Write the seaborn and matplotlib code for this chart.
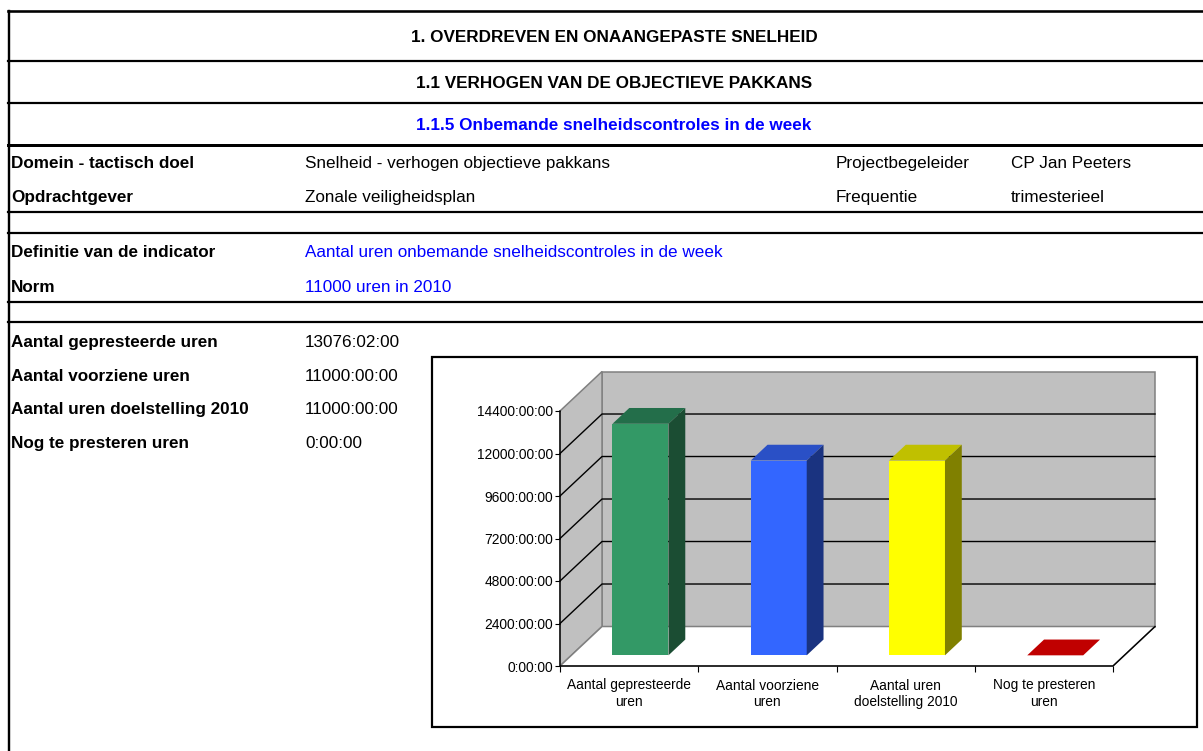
import matplotlib
matplotlib.use("Agg")
import matplotlib.pyplot as plt
from matplotlib.patches import Polygon, Rectangle
from matplotlib.lines import Line2D
import seaborn as sns
import pandas as pd

# chart data
categories = ["Aantal gepresteerde\nuren", "Aantal voorziene\nuren",
              "Aantal uren\ndoelstelling 2010", "Nog te presteren\nuren"]
hours = [13076 + 2 / 60, 11000, 11000, 0]
y_ticks = [0, 2400, 4800, 7200, 9600, 12000, 14400]

# sheet texts
headers = ["1. OVERDREVEN EN ONAANGEPASTE SNELHEID",
           "1.1 VERHOGEN VAN DE OBJECTIEVE PAKKANS",
           "1.1.5 Onbemande snelheidscontroles in de week"]
info_labels = ["Domein - tactisch doel", "Opdrachtgever"]
info_values = ["Snelheid - verhogen objectieve pakkans", "Zonale veiligheidsplan"]
info_labels2 = ["Projectbegeleider", "Frequentie"]
info_values2 = ["CP Jan Peeters", "trimesterieel"]
def_labels = ["Definitie van de indicator", "Norm"]
def_values = ["Aantal uren onbemande snelheidscontroles in de week", "11000 uren in 2010"]
sum_labels = ["Aantal gepresteerde uren", "Aantal voorziene uren",
              "Aantal uren doelstelling 2010", "Nog te presteren uren"]
sum_values = ["13076:02:00", "11000:00:00", "11000:00:00", "0:00:00"]

front_colors = ["#339966", "#3366FF", "#FFFF00", "#C00000"]
top_colors = ["#236E4A", "#2A50C6", "#C0C000", "#C00000"]
side_colors = ["#1B4D33", "#1A3380", "#808000", "#600000"]

plt.rcParams["font.family"] = ["Liberation Sans", "DejaVu Sans"]

W, H = 1203, 751
fig = plt.figure(figsize=(W / 100, H / 100), dpi=100)


def fx(x):
    return x / W


def fy(y):
    return 1 - y / H


# sheet grid lines
for y, lw in [(11, 2.6), (61, 2.2), (103, 2.2), (145, 3.0), (212, 2.2), (233, 2.2), (302, 2.2), (322, 2.2)]:
    fig.add_artist(Line2D([fx(8), 1], [fy(y), fy(y)], color="black", lw=lw * 0.72))
fig.add_artist(Line2D([fx(9), fx(9)], [fy(11), 0], color="black", lw=2.4 * 0.72))

FS = 12.3
blue = "#0000FF"
for s, yb, c in zip(headers, [42, 88, 130], ["black", "black", blue]):
    fig.text(fx(614), fy(yb), s, ha="center", va="baseline", fontsize=FS,
             fontweight="bold", color=c)

for i, yb in enumerate([168, 202]):
    fig.text(fx(11), fy(yb), info_labels[i], fontsize=FS, fontweight="bold", va="baseline")
    fig.text(fx(305), fy(yb), info_values[i], fontsize=FS, va="baseline")
    fig.text(fx(836), fy(yb), info_labels2[i], fontsize=FS, va="baseline")
    fig.text(fx(1011), fy(yb), info_values2[i], fontsize=FS, va="baseline")

for i, yb in enumerate([257, 292]):
    fig.text(fx(11), fy(yb), def_labels[i], fontsize=FS, fontweight="bold", va="baseline")
    fig.text(fx(305), fy(yb), def_values[i], fontsize=FS, va="baseline", color=blue)

for i, yb in enumerate([347, 381, 414, 448]):
    fig.text(fx(11), fy(yb), sum_labels[i], fontsize=FS, fontweight="bold", va="baseline")
    fig.text(fx(305), fy(yb), sum_values[i], fontsize=FS, va="baseline")

# chart frame
fig.add_artist(Rectangle((fx(432), fy(727)), fx(1197) - fx(432), fy(357) - fy(727),
                         transform=fig.transFigure, fc="white", ec="black",
                         lw=2.2 * 0.72, zorder=-1))

ax = fig.add_axes([fx(560), fy(666), (1113 - 560) / W, (666 - 411) / H])
ax.set_facecolor("none")

df = pd.DataFrame({"categorie": categories, "uren": hours})
sns.barplot(data=df, x="categorie", y="uren", hue="categorie", palette=front_colors,
            saturation=1, width=0.405, errorbar=None, legend=False, ax=ax,
            linewidth=0, zorder=3)
bars = list(ax.patches)

x0, x1 = -0.5, 3.5
top = y_ticks[-1]
ax.set_xlim(x0, x1)
ax.set_ylim(0, top)
for s in ax.spines.values():
    s.set_visible(False)

# 3d box
DX, DY = 0.304, 2230
wall = dict(fc="#C0C0C0", ec="#808080", lw=1.1, zorder=0.5, clip_on=False)
ax.add_patch(Polygon([(x0 + DX, DY), (x1 + DX, DY), (x1 + DX, top + DY), (x0 + DX, top + DY)], **wall))
ax.add_patch(Polygon([(x0, 0), (x0 + DX, DY), (x0 + DX, top + DY), (x0, top)], **wall))
ax.add_patch(Polygon([(x0, 0), (x1, 0), (x1 + DX, DY), (x0 + DX, DY)],
                     fc="white", ec="#808080", lw=1.1, zorder=0.6, clip_on=False))
for v in y_ticks[1:-1]:
    ax.plot([x0, x0 + DX, x1 + DX], [v, v + DY, v + DY], color="black", lw=1.0,
            zorder=0.8, clip_on=False)
ax.plot([x0, x0, x1, x1 + DX], [top, 0, 0, DY], color="black", lw=1.0, zorder=0.9,
        clip_on=False)

# bars: shift front face into the box, add top and side faces
F0, BD = 0.27, 0.4
for bar, tc, sc in zip(bars, top_colors, side_colors):
    x, w, h = bar.get_x() + F0 * DX, bar.get_width(), bar.get_height()
    y = F0 * DY
    bar.set_x(x)
    bar.set_y(y)
    ddx, ddy = BD * DX, BD * DY
    ax.add_patch(Polygon([(x, y + h), (x + w, y + h), (x + w + ddx, y + h + ddy),
                          (x + ddx, y + h + ddy)], fc=tc, ec="none", zorder=3, clip_on=False))
    if h > 0:
        ax.add_patch(Polygon([(x + w, y), (x + w + ddx, y + ddy), (x + w + ddx, y + h + ddy),
                              (x + w, y + h)], fc=sc, ec="none", zorder=3, clip_on=False))

ax.set_yticks(y_ticks)
ax.set_yticklabels([f"{v}:00:00" for v in y_ticks])
ax.set_xticks([x0, 0.5, 1.5, 2.5, x1], minor=True)
ax.tick_params(axis="y", length=3.6, width=0.8, pad=1.5, labelsize=9.9)
ax.tick_params(axis="x", which="major", length=0, pad=9, labelsize=9.9)
ax.tick_params(axis="x", which="minor", length=4.5, width=0.8)
ax.set_xlabel("")
ax.set_ylabel("")

fig.savefig("out.png", dpi=100)
